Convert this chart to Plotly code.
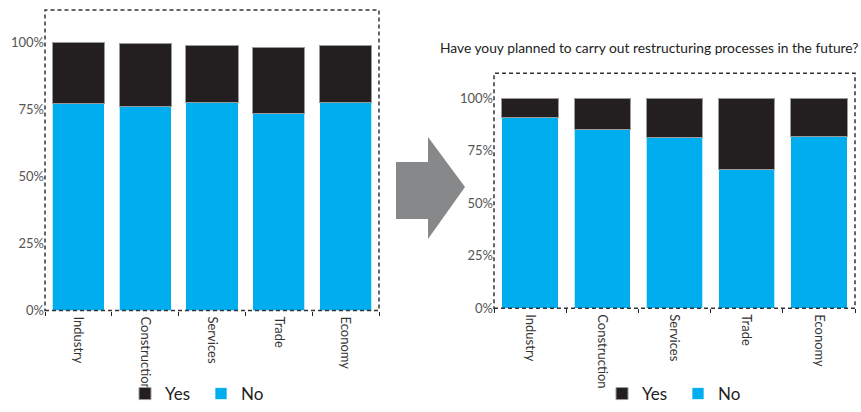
import plotly.graph_objects as go

sectors = ["Industry", "Construction", "Services", "Trade", "Economy"]

# Past restructuring (left panel), shares in %
past_no = [77.0, 76.0, 77.5, 73.5, 77.5]
past_yes = [23.0, 23.7, 21.3, 24.7, 21.3]

# Planned restructuring (right panel), shares in %
future_no = [91.0, 85.2, 81.3, 66.2, 82.0]
future_yes = [9.0, 14.8, 18.7, 33.8, 18.0]

y_ticks = [0, 25, 50, 75, 100]
y_ticktext = ["0%", "25%", "50%", "75%", "100%"]

title_text = "Have youy planned to carry out restructuring processes in the future?"

BLACK = "#231f20"
BLUE = "#00aeef"
FONT = "Lato, 'DejaVu Sans', sans-serif"

W, H = 861, 412


def px_x(x):
    return x / W


def px_y(y):
    return 1 - y / H


fig = go.Figure()

panels = [
    ("x", "y", past_no, past_yes, "legend"),
    ("x2", "y2", future_no, future_yes, "legend2"),
]
for xa, ya, no_vals, yes_vals, leg in panels:
    fig.add_trace(go.Bar(
        x=sectors, y=no_vals, name="No", xaxis=xa, yaxis=ya,
        marker=dict(color=BLUE, line=dict(color="rgba(255,255,255,0.7)", width=1)),
        legend=leg, legendrank=2, hoverinfo="skip",
    ))
    fig.add_trace(go.Bar(
        x=sectors, y=yes_vals, name="Yes", xaxis=xa, yaxis=ya,
        marker=dict(color=BLACK, line=dict(color="#9a9a9a", width=1)),
        legend=leg, legendrank=1, hoverinfo="skip",
    ))

xaxis_common = dict(
    type="category", showgrid=False, zeroline=False, showline=False,
    automargin=False,
    ticks="outside", tickson="boundaries", ticklen=4, tickwidth=1,
    tickcolor="#222", tickangle=90, ticklabelstandoff=5,
    tickfont=dict(family=FONT, size=13, color="#333"),
)
yaxis_common = dict(
    range=[0, 112], showgrid=False, zeroline=False, showline=False,
    automargin=False,
    tickvals=y_ticks, ticktext=y_ticktext, ticks="",
    tickfont=dict(family=FONT, size=13, color="#555"),
)

left_dom_x = [px_x(45), px_x(379)]
left_dom_y = [px_y(310.5), px_y(10)]
right_dom_x = [px_x(494), px_x(855)]
right_dom_y = [px_y(308.3), px_y(73.3)]

legend_common = dict(
    orientation="h", xanchor="left", yanchor="bottom", traceorder="normal",
    font=dict(family=FONT, size=17, color="#222"),
    bgcolor="rgba(0,0,0,0)", itemwidth=30, entrywidth=31,
    itemclick=False, itemdoubleclick=False,
)

fig.update_layout(
    width=W, height=H,
    margin=dict(l=0, r=0, t=0, b=0, autoexpand=False),
    paper_bgcolor="white", plot_bgcolor="white",
    barmode="stack", bargap=0.22,
    showlegend=True,
    font=dict(family=FONT),
    xaxis=dict(domain=left_dom_x, anchor="y", **xaxis_common),
    yaxis=dict(domain=left_dom_y, anchor="x", **yaxis_common),
    xaxis2=dict(domain=right_dom_x, anchor="y2", **xaxis_common),
    yaxis2=dict(domain=right_dom_y, anchor="x2", **yaxis_common),
    legend=dict(x=px_x(125), y=0, **legend_common),
    legend2=dict(x=px_x(602), y=0, **legend_common),
)

# Dashed frames around both plot areas
for xd, yd in [("x domain", "y domain"), ("x2 domain", "y2 domain")]:
    fig.add_shape(
        type="rect", xref=xd, yref=yd, x0=0, x1=1, y0=0, y1=1,
        line=dict(color="#333", width=1.5, dash="4px,3px"),
        layer="above",
    )

# Grey arrow between the two panels
arrow_pts = [(396, 162), (428, 162), (428, 137), (465, 187),
             (428, 239), (428, 219), (396, 219)]
path = "M " + " L ".join(f"{px_x(x):.5f},{px_y(y):.5f}" for x, y in arrow_pts) + " Z"
fig.add_shape(type="path", xref="paper", yref="paper", path=path,
              fillcolor="#87888a", line=dict(width=0))

# Question heading above the right panel
fig.add_annotation(
    text=title_text, xref="paper", yref="paper",
    x=px_x(438), y=px_y(48), xanchor="left", yanchor="middle",
    showarrow=False, font=dict(family=FONT, size=13.8, color="#222"),
)

fig.write_html("out.html")
